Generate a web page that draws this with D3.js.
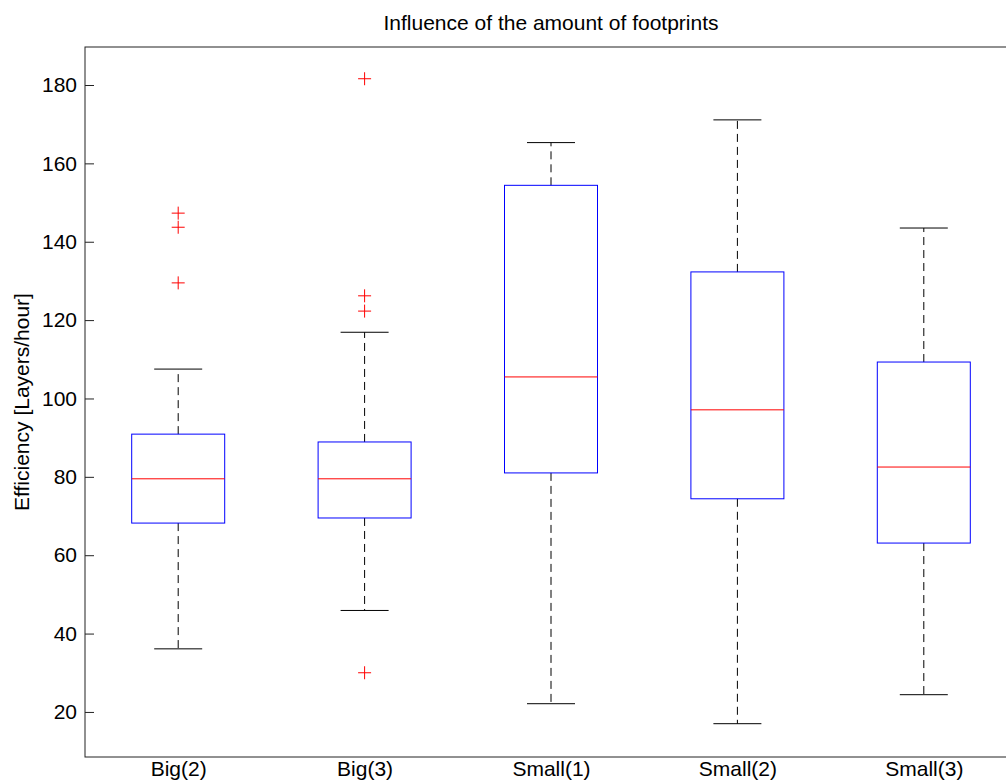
<!DOCTYPE html>
<html>
<head>
<meta charset="utf-8">
<script src="https://cdn.jsdelivr.net/npm/d3@7"></script>
<style>
  html, body { margin: 0; padding: 0; background: #fff; }
  svg { display: block; font-family: "Liberation Sans", Arial, sans-serif; }
</style>
</head>
<body>
<svg id="chart" width="1006" height="783"></svg>
<script>
// Box plot statistics per footprint configuration
const categories = ["Big(2)", "Big(3)", "Small(1)", "Small(2)", "Small(3)"];
const lowerWhisker = [36.1, 45.9, 22.1, 17.0, 24.4];
const q1           = [68.2, 69.5, 81.0, 74.4, 63.1];
const median       = [79.5, 79.5, 105.5, 97.1, 82.5];
const q3           = [90.9, 88.9, 154.4, 132.3, 109.3];
const upperWhisker = [107.5, 116.9, 165.3, 171.1, 143.5];
const outliers     = [[147.3, 143.7, 129.5], [181.6, 126.2, 122.3, 30.0], [], [], []];
const yTicks = [20, 40, 60, 80, 100, 120, 140, 160, 180];

const svg = d3.select("#chart");
const plot = { left: 85, top: 47, right: 1017, bottom: 757 };

const x = d3.scaleLinear().domain([0.5, categories.length + 0.5]).range([plot.left, plot.right]);
const y = d3.scaleLinear().domain([8.5, 189.7]).range([plot.bottom, plot.top]);

const boxHalf = 46.5, capHalf = 24;
const fontSize = 21;

// Frame
svg.append("rect")
  .attr("x", plot.left).attr("y", plot.top)
  .attr("width", plot.right - plot.left).attr("height", plot.bottom - plot.top)
  .attr("fill", "none").attr("stroke", "#222").attr("stroke-width", 1);

// Y axis with inward ticks
const yAxis = svg.append("g")
  .attr("transform", `translate(${plot.left},0)`)
  .call(d3.axisLeft(y).tickValues(yTicks).tickSize(-9).tickPadding(8).tickFormat(d3.format("d")));
yAxis.select(".domain").remove();
yAxis.selectAll(".tick line").attr("stroke", "#222");
yAxis.selectAll(".tick text").attr("font-size", fontSize).attr("fill", "#000")
  .attr("font-family", "Liberation Sans, Arial, sans-serif");

// X axis category labels (no tick marks)
const xAxis = svg.append("g")
  .attr("transform", `translate(0,${plot.bottom})`)
  .call(d3.axisBottom(x).tickValues(d3.range(1, categories.length + 1)).tickSize(0).tickPadding(4)
    .tickFormat((d) => categories[d - 1]));
xAxis.select(".domain").remove();
xAxis.selectAll(".tick text").attr("font-size", fontSize).attr("fill", "#000")
  .attr("font-family", "Liberation Sans, Arial, sans-serif");

const groups = svg.append("g").selectAll("g")
  .data(categories.map((c, i) => ({
    i, pos: i + 1, lw: lowerWhisker[i], q1: q1[i], med: median[i], q3: q3[i], uw: upperWhisker[i], out: outliers[i]
  })))
  .join("g");

// Dashed whiskers
groups.append("line")
  .attr("x1", (d) => x(d.pos)).attr("x2", (d) => x(d.pos))
  .attr("y1", (d) => y(d.q3)).attr("y2", (d) => y(d.uw))
  .attr("stroke", "#000").attr("stroke-dasharray", "8,5");
groups.append("line")
  .attr("x1", (d) => x(d.pos)).attr("x2", (d) => x(d.pos))
  .attr("y1", (d) => y(d.q1)).attr("y2", (d) => y(d.lw))
  .attr("stroke", "#000").attr("stroke-dasharray", "8,5");

// Whisker caps
["uw", "lw"].forEach((k) => {
  groups.append("line")
    .attr("x1", (d) => x(d.pos) - capHalf).attr("x2", (d) => x(d.pos) + capHalf)
    .attr("y1", (d) => y(d[k])).attr("y2", (d) => y(d[k]))
    .attr("stroke", "#000");
});

// Boxes
groups.append("rect")
  .attr("x", (d) => x(d.pos) - boxHalf).attr("width", boxHalf * 2)
  .attr("y", (d) => y(d.q3)).attr("height", (d) => y(d.q1) - y(d.q3))
  .attr("fill", "none").attr("stroke", "#0000ff");

// Medians
groups.append("line")
  .attr("x1", (d) => x(d.pos) - boxHalf).attr("x2", (d) => x(d.pos) + boxHalf)
  .attr("y1", (d) => y(d.med)).attr("y2", (d) => y(d.med))
  .attr("stroke", "#ff0000");

// Outlier markers (+)
groups.selectAll("path.out")
  .data((d) => d.out.map((v) => ({ pos: d.pos, v })))
  .join("path")
  .attr("class", "out")
  .attr("d", (d) => {
    const cx = x(d.pos), cy = y(d.v), r = 6.5;
    return `M${cx - r},${cy}H${cx + r}M${cx},${cy - r}V${cy + r}`;
  })
  .attr("stroke", "#ff0000").attr("fill", "none");

// Title
svg.append("text")
  .attr("x", (plot.left + plot.right) / 2).attr("y", 30)
  .attr("text-anchor", "middle").attr("font-size", fontSize).attr("fill", "#000")
  .text("Influence of the amount of footprints");

// Y label
svg.append("text")
  .attr("transform", `translate(29,${(plot.top + plot.bottom) / 2}) rotate(-90)`)
  .attr("text-anchor", "middle").attr("font-size", fontSize).attr("fill", "#000")
  .text("Efficiency [Layers/hour]");
</script>
</body>
</html>
